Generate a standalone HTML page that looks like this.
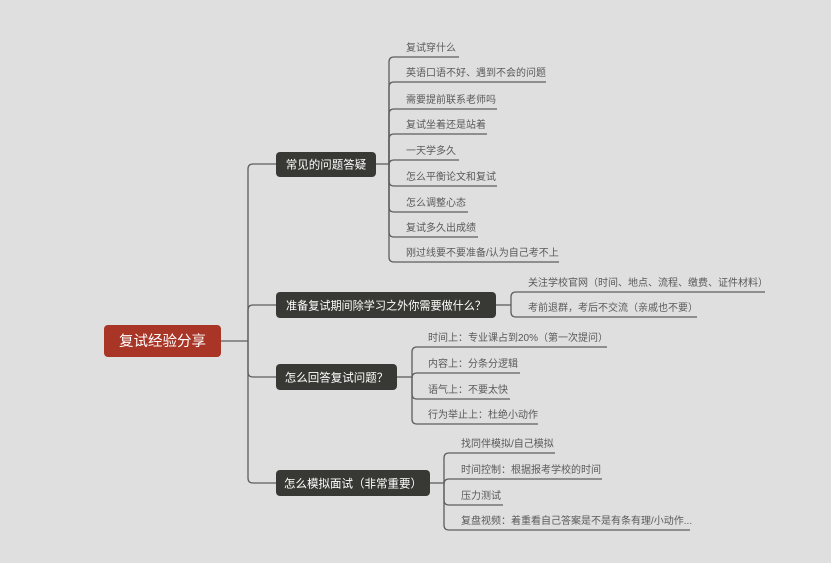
<!DOCTYPE html>
<html><head><meta charset="utf-8"><style>
html,body{margin:0;padding:0;background:#dfdfdf;}
svg{display:block;}
text{font-family:"Liberation Sans","Noto Sans CJK SC",sans-serif;}
.l{font-size:10px;fill:#5a5a5a;}
.n{font-size:11.5px;fill:#fff;}
path{fill:none;stroke:#5e5e5e;stroke-width:1.3;}
</style></head><body>
<svg width="831" height="563" viewBox="0 0 831 563" xmlns="http://www.w3.org/2000/svg">
<rect width="831" height="563" fill="#dfdfdf"/>
<path d="M221,341 H248"/>
<path d="M248,341 V169 Q248,164 253,164 H276"/>
<path d="M248,341 V310 Q248,305 253,305 H276"/>
<path d="M248,341 V372 Q248,377 253,377 H276"/>
<path d="M248,341 V478 Q248,483 253,483 H276"/>
<path d="M376,164 H389"/>
<path d="M389,164 V62 Q389,57 394,57 H459"/>
<path d="M389,164 V87 Q389,82 394,82 H546"/>
<path d="M389,164 V114 Q389,109 394,109 H497"/>
<path d="M389,164 V139 Q389,134 394,134 H487"/>
<path d="M389,164 V165 Q389,160 394,160 H459"/>
<path d="M389,164 V181 Q389,186 394,186 H497"/>
<path d="M389,164 V207 Q389,212 394,212 H468"/>
<path d="M389,164 V232 Q389,237 394,237 H478"/>
<path d="M389,164 V257 Q389,262 394,262 H559"/>
<text class="l" x="406" y="51">复试穿什么</text>
<text class="l" x="406" y="76">英语口语不好、遇到不会的问题</text>
<text class="l" x="406" y="103">需要提前联系老师吗</text>
<text class="l" x="406" y="128">复试坐着还是站着</text>
<text class="l" x="406" y="154">一天学多久</text>
<text class="l" x="406" y="180">怎么平衡论文和复试</text>
<text class="l" x="406" y="206">怎么调整心态</text>
<text class="l" x="406" y="231">复试多久出成绩</text>
<text class="l" x="406" y="256">刚过线要不要准备/认为自己考不上</text>
<path d="M496,305 H511"/>
<path d="M511,305 V297 Q511,292 516,292 H765"/>
<path d="M511,305 V312 Q511,317 516,317 H697"/>
<text class="l" x="528" y="286">关注学校官网（时间、地点、流程、缴费、证件材料）</text>
<text class="l" x="528" y="311">考前退群，考后不交流（亲戚也不要）</text>
<path d="M397,377 H412"/>
<path d="M412,377 V352 Q412,347 417,347 H607"/>
<path d="M412,377 V378 Q412,373 417,373 H520"/>
<path d="M412,377 V394 Q412,399 417,399 H510"/>
<path d="M412,377 V419 Q412,424 417,424 H538"/>
<text class="l" x="428" y="341">时间上：专业课占到20%（第一次提问）</text>
<text class="l" x="428" y="367">内容上：分条分逻辑</text>
<text class="l" x="428" y="393">语气上：不要太快</text>
<text class="l" x="428" y="418">行为举止上：杜绝小动作</text>
<path d="M430,483 H444"/>
<path d="M444,483 V458 Q444,453 449,453 H555"/>
<path d="M444,483 V484 Q444,479 449,479 H602"/>
<path d="M444,483 V500 Q444,505 449,505 H503"/>
<path d="M444,483 V525 Q444,530 449,530 H690"/>
<text class="l" x="461" y="447">找同伴模拟/自己模拟</text>
<text class="l" x="461" y="473">时间控制：根据报考学校的时间</text>
<text class="l" x="461" y="499">压力测试</text>
<text class="l" x="461" y="524">复盘视频：着重看自己答案是不是有条有理/小动作...</text>
<rect x="104" y="325" width="117" height="32" rx="4" fill="#a83526"/>
<text x="162.5" y="346" text-anchor="middle" style="font-size:14.5px;fill:#fff">复试经验分享</text>
<rect x="276" y="152" width="100" height="25" rx="4" fill="#383834"/>
<text class="n" x="326" y="168.5" text-anchor="middle">常见的问题答疑</text>
<rect x="276" y="292" width="220" height="26" rx="4" fill="#383834"/>
<text class="n" x="386" y="309.5" text-anchor="middle" textLength="200" lengthAdjust="spacingAndGlyphs">准备复试期间除学习之外你需要做什么？</text>
<rect x="276" y="364" width="121" height="26" rx="4" fill="#383834"/>
<text class="n" x="336.5" y="381.5" text-anchor="middle">怎么回答复试问题？</text>
<rect x="276" y="470" width="154" height="26" rx="4" fill="#383834"/>
<text class="n" x="353" y="487.5" text-anchor="middle">怎么模拟面试（非常重要）</text>
</svg>
</body></html>
